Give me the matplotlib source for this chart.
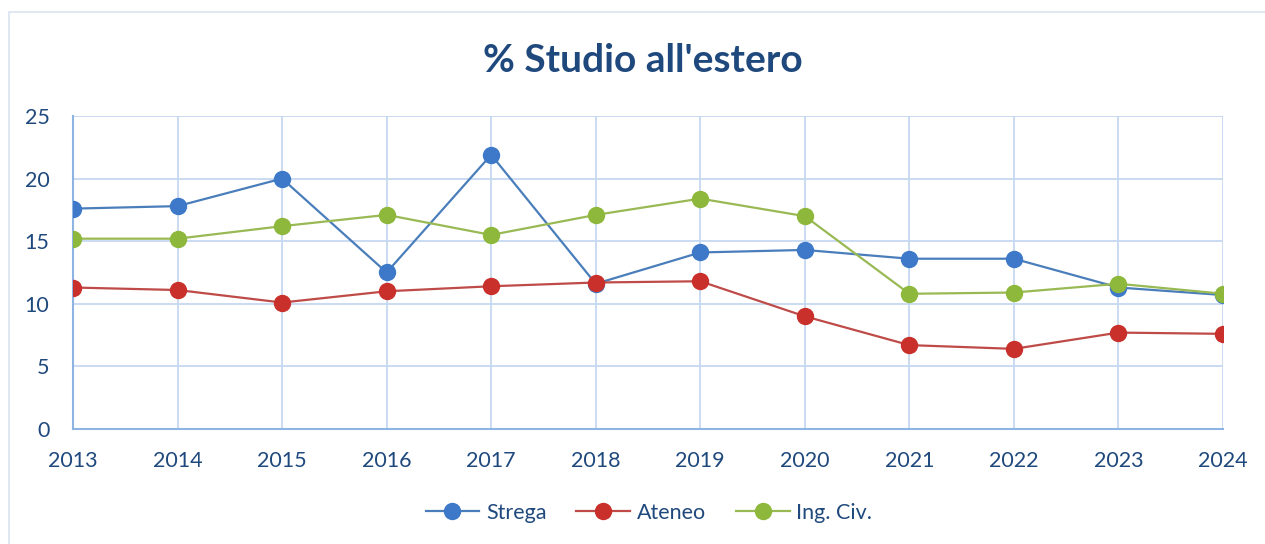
import matplotlib
matplotlib.use("Agg")
import matplotlib.pyplot as plt
from matplotlib.patches import Rectangle

# dati
anni = [2013, 2014, 2015, 2016, 2017, 2018, 2019, 2020, 2021, 2022, 2023, 2024]
strega = [17.6, 17.8, 20.0, 12.5, 21.9, 11.6, 14.1, 14.3, 13.6, 13.6, 11.3, 10.7]
ateneo = [11.3, 11.1, 10.1, 11.0, 11.4, 11.7, 11.8, 9.0, 6.7, 6.4, 7.7, 7.6]
ing_civ = [15.2, 15.2, 16.2, 17.1, 15.5, 17.1, 18.4, 17.0, 10.8, 10.9, 11.6, 10.8]
y_ticks = [0, 5, 10, 15, 20, 25]

TESTO = "#1F497D"
GRIGLIA = "#C6D9F1"
ASSE = "#8EB4E3"

plt.rcParams["font.family"] = ["Lato", "DejaVu Sans"]

fig = plt.figure(figsize=(12.65, 5.44), dpi=100)
ax = fig.add_axes([0.0577, 0.2114, 0.9091, 0.5754])

# cornice del grafico
fig.patches.append(Rectangle((8.5 / 1265, -0.05), 1.1, 1 - 11.5 / 544 + 0.05,
                             transform=fig.transFigure, fill=False,
                             edgecolor="#D9E3F0", linewidth=1.2))

serie = [
    ("Strega", strega, "#4A7EBB", "#3D79C8"),
    ("Ateneo", ateneo, "#BE4B48", "#C9302C"),
    ("Ing. Civ.", ing_civ, "#98B954", "#8DB83B"),
]
for nome, valori, col_linea, col_marker in serie:
    ax.plot(anni, valori, color=col_linea, linewidth=1.6, marker="o",
            markersize=11.5, markerfacecolor=col_marker, markeredgecolor=col_marker,
            label=nome, zorder=3)

ax.set_xlim(2013, 2024)
ax.set_ylim(0, 25)
ax.set_xticks(anni)
ax.set_yticks(y_ticks)
ax.grid(True, color=GRIGLIA, linewidth=1.3)
ax.set_axisbelow(True)
for lato in ["top", "right"]:
    ax.spines[lato].set_visible(False)
for lato in ["left", "bottom"]:
    ax.spines[lato].set_color(ASSE)
    ax.spines[lato].set_linewidth(1.5)
ax.tick_params(axis="both", length=0, labelsize=15.5, labelcolor=TESTO)
ax.tick_params(axis="x", pad=16)
ax.tick_params(axis="y", pad=17)
for lab in ax.get_xticklabels() + ax.get_yticklabels():
    lab.set_clip_on(False)

fig.text(0.508, 0.888, "% Studio all'estero", ha="center", va="center",
         fontsize=28, fontweight="bold", color=TESTO)

leg = fig.legend(loc="center", bbox_to_anchor=(0.513, 0.057), ncol=3, frameon=False,
                 fontsize=15.5, handlelength=2.5, columnspacing=1.4, handletextpad=0.3)
for t in leg.get_texts():
    t.set_color(TESTO)

fig.savefig("out.png", dpi=100)
